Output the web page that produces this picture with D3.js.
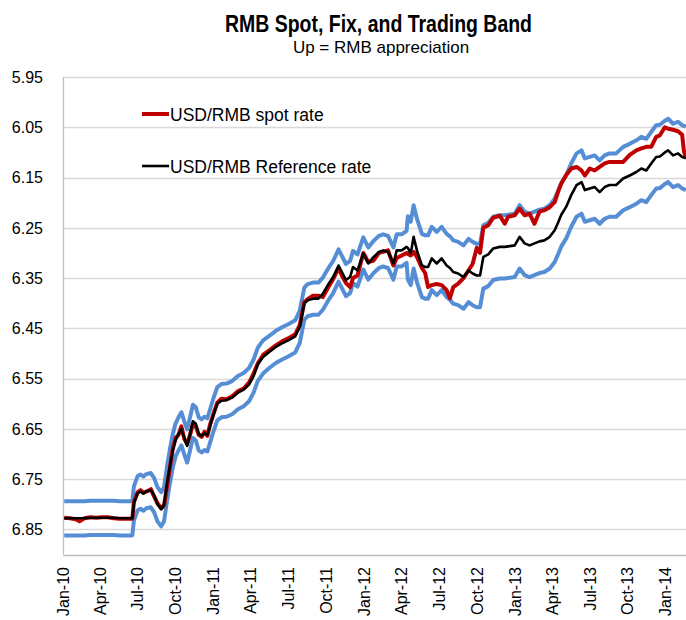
<!DOCTYPE html>
<html>
<head>
<meta charset="utf-8">
<script src="https://cdn.jsdelivr.net/npm/d3@7"></script>
<style>
    body { margin: 0; background: #fff; }
    svg text { font-family: "Liberation Sans", Arial, sans-serif; fill: #000; }
    .title { font-weight: bold; }
</style>
</head>
<body>
<script>
(function(){

//dates of the readings (one row per year)
var dates = [
    "2010-01-04","2010-01-18","2010-02-01","2010-02-10","2010-02-22","2010-03-08","2010-03-22","2010-04-06","2010-04-20","2010-05-04","2010-05-18","2010-06-01","2010-06-18","2010-06-22","2010-07-01","2010-07-08","2010-07-15","2010-07-22","2010-08-02","2010-08-10","2010-08-18","2010-08-27","2010-09-03","2010-09-10","2010-09-17","2010-09-24","2010-10-01","2010-10-08","2010-10-15","2010-10-22","2010-10-29","2010-11-05","2010-11-12","2010-11-19","2010-11-26","2010-12-03","2010-12-10","2010-12-17","2010-12-24","2010-12-31",
    "2011-01-10","2011-01-20","2011-02-01","2011-02-15","2011-03-01","2011-03-15","2011-03-28","2011-04-08","2011-04-18","2011-05-01","2011-05-16","2011-06-01","2011-06-16","2011-07-01","2011-07-18","2011-07-29","2011-08-09","2011-08-17","2011-08-30","2011-09-12","2011-09-23","2011-10-05","2011-10-18","2011-10-31","2011-11-08","2011-11-18","2011-11-28","2011-12-05","2011-12-16","2011-12-30",
    "2012-01-11","2012-01-24","2012-02-06","2012-02-16","2012-02-28","2012-03-12","2012-03-20","2012-04-01","2012-04-13","2012-04-16","2012-04-23","2012-04-30","2012-05-08","2012-05-20","2012-05-28","2012-06-04","2012-06-13","2012-06-25","2012-07-07","2012-07-19","2012-07-27","2012-08-04","2012-08-16","2012-08-29","2012-09-10","2012-09-20","2012-09-30","2012-10-08","2012-10-16","2012-10-28","2012-11-09","2012-11-25","2012-12-07","2012-12-15","2012-12-31",
    "2013-01-12","2013-01-24","2013-02-05","2013-02-17","2013-03-01","2013-03-13","2013-03-26","2013-04-07","2013-04-15","2013-04-23","2013-05-05","2013-05-17","2013-05-30","2013-06-11","2013-06-19","2013-07-01","2013-07-13","2013-07-25","2013-08-06","2013-08-18","2013-09-03","2013-09-20","2013-10-06","2013-10-22","2013-11-03","2013-11-15","2013-11-27","2013-12-09","2013-12-18","2013-12-30",
    "2014-01-07","2014-01-19","2014-01-31","2014-02-10","2014-02-14","2014-02-19"
];

//USD/RMB spot rate
var spotRate = [
    6.827,6.828,6.830,6.834,6.828,6.826,6.827,6.826,6.826,6.828,6.829,6.829,6.829,6.795,6.776,6.772,6.777,6.775,6.770,6.785,6.798,6.808,6.802,6.765,6.728,6.690,6.668,6.662,6.645,6.670,6.680,6.662,6.640,6.645,6.662,6.666,6.656,6.664,6.640,6.622,
    6.598,6.590,6.591,6.585,6.575,6.570,6.558,6.540,6.520,6.503,6.494,6.484,6.476,6.470,6.462,6.443,6.398,6.392,6.385,6.385,6.388,6.370,6.352,6.330,6.345,6.360,6.368,6.350,6.345,6.300,
    6.318,6.315,6.300,6.298,6.295,6.325,6.310,6.305,6.300,6.302,6.305,6.298,6.308,6.330,6.340,6.368,6.364,6.362,6.364,6.374,6.390,6.368,6.361,6.350,6.335,6.322,6.290,6.300,6.250,6.245,6.230,6.226,6.242,6.228,6.225,
    6.212,6.225,6.222,6.242,6.218,6.215,6.209,6.199,6.179,6.162,6.145,6.132,6.129,6.136,6.146,6.132,6.136,6.129,6.122,6.119,6.119,6.119,6.105,6.096,6.092,6.089,6.089,6.069,6.066,6.050,
    6.053,6.055,6.058,6.065,6.096,6.112
];

//USD/RMB reference (fixing) rate
var refRate = [
    6.828,6.828,6.828,6.828,6.828,6.827,6.827,6.827,6.827,6.827,6.828,6.828,6.828,6.798,6.778,6.775,6.779,6.774,6.772,6.782,6.800,6.810,6.800,6.760,6.725,6.694,6.672,6.660,6.650,6.668,6.684,6.660,6.635,6.640,6.660,6.664,6.659,6.662,6.643,6.624,
    6.600,6.594,6.593,6.588,6.578,6.572,6.562,6.545,6.522,6.507,6.497,6.487,6.480,6.474,6.466,6.447,6.401,6.394,6.391,6.391,6.381,6.364,6.348,6.325,6.338,6.354,6.348,6.328,6.335,6.301,
    6.321,6.308,6.298,6.295,6.298,6.321,6.295,6.295,6.288,6.290,6.301,6.268,6.295,6.325,6.328,6.328,6.311,6.321,6.311,6.325,6.330,6.338,6.341,6.348,6.335,6.341,6.345,6.345,6.308,6.303,6.291,6.288,6.288,6.287,6.285,
    6.268,6.281,6.285,6.281,6.277,6.275,6.268,6.255,6.240,6.224,6.208,6.185,6.165,6.159,6.175,6.172,6.169,6.179,6.169,6.165,6.165,6.152,6.146,6.139,6.132,6.136,6.122,6.109,6.108,6.100,
    6.096,6.106,6.102,6.109,6.110,6.112
];

//trading band, strong side
var bandUpper = [
    6.794,6.794,6.794,6.794,6.794,6.793,6.793,6.793,6.793,6.793,6.794,6.794,6.794,6.764,6.744,6.741,6.745,6.740,6.738,6.748,6.766,6.776,6.766,6.726,6.691,6.661,6.639,6.627,6.617,6.635,6.651,6.627,6.602,6.607,6.627,6.631,6.626,6.629,6.610,6.591,
    6.567,6.561,6.560,6.555,6.545,6.539,6.529,6.512,6.489,6.474,6.465,6.455,6.448,6.442,6.434,6.415,6.369,6.362,6.359,6.359,6.349,6.332,6.316,6.293,6.306,6.322,6.316,6.296,6.303,6.269,
    6.289,6.276,6.266,6.263,6.266,6.289,6.263,6.263,6.256,6.227,6.238,6.205,6.232,6.262,6.265,6.265,6.248,6.258,6.248,6.262,6.267,6.275,6.278,6.285,6.272,6.278,6.282,6.282,6.245,6.240,6.228,6.225,6.225,6.224,6.222,
    6.205,6.218,6.222,6.218,6.214,6.212,6.205,6.192,6.177,6.161,6.145,6.122,6.102,6.096,6.112,6.109,6.106,6.116,6.106,6.102,6.102,6.089,6.083,6.076,6.069,6.073,6.059,6.046,6.045,6.037,
    6.033,6.043,6.039,6.046,6.047,6.049
];

//trading band, weak side
var bandLower = [
    6.862,6.862,6.862,6.862,6.862,6.861,6.861,6.861,6.861,6.861,6.862,6.862,6.862,6.832,6.812,6.809,6.813,6.808,6.806,6.816,6.834,6.844,6.834,6.794,6.759,6.727,6.705,6.693,6.683,6.701,6.717,6.693,6.668,6.673,6.693,6.697,6.692,6.695,6.676,6.657,
    6.633,6.627,6.626,6.621,6.611,6.605,6.595,6.578,6.555,6.540,6.529,6.519,6.512,6.506,6.498,6.479,6.433,6.426,6.423,6.423,6.413,6.396,6.380,6.357,6.370,6.386,6.380,6.360,6.367,6.333,
    6.353,6.340,6.330,6.327,6.330,6.353,6.327,6.327,6.320,6.353,6.364,6.331,6.358,6.388,6.391,6.391,6.374,6.384,6.374,6.388,6.393,6.401,6.404,6.411,6.398,6.404,6.408,6.408,6.371,6.366,6.354,6.351,6.351,6.350,6.348,
    6.331,6.344,6.348,6.344,6.340,6.338,6.331,6.318,6.303,6.287,6.271,6.248,6.228,6.222,6.238,6.235,6.232,6.242,6.232,6.228,6.228,6.215,6.209,6.202,6.195,6.199,6.185,6.172,6.171,6.163,
    6.159,6.169,6.165,6.172,6.173,6.175
];

//value axis ticks (axis is reversed: up = RMB appreciation)
var yTicks = [5.95, 6.05, 6.15, 6.25, 6.35, 6.45, 6.55, 6.65, 6.75, 6.85];
var legendLabels = ["USD/RMB spot rate", "USD/RMB Reference rate"];

window.onload = drawChart();

function drawChart(){

    var width = 686,
        height = 620;

    var svg = d3.select("body")
        .append("svg")
        .attr("width", width)
        .attr("height", height);

    var parseDate = d3.timeParse("%Y-%m-%d");
    var dateObjs = dates.map(parseDate);

    //plot area runs off the right edge like the original
    var x = d3.scaleTime()
        .domain([new Date(2010, 0, 1), new Date(2014, 2, 1)])
        .range([63, 690]);

    var y = d3.scaleLinear()
        .domain([5.95, 6.9])
        .range([77, 554.5]);

    //horizontal gridlines
    svg.selectAll(".grid")
        .data(yTicks)
        .enter()
        .append("line")
        .attr("class", "grid")
        .attr("x1", 63)
        .attr("x2", width)
        .attr("y1", function(d){ return Math.round(y(d)) + 0.5; })
        .attr("y2", function(d){ return Math.round(y(d)) + 0.5; })
        .style("stroke", "#d9d9d9")
        .style("stroke-width", 1.3);

    //y tick labels
    svg.selectAll(".ylab")
        .data(yTicks)
        .enter()
        .append("text")
        .attr("class", "ylab")
        .attr("x", 43)
        .attr("y", function(d){ return y(d); })
        .attr("dy", "0.36em")
        .attr("text-anchor", "end")
        .style("font-size", "16px")
        .text(function(d){ return d.toFixed(2); });

    //axis lines
    svg.append("line")
        .attr("x1", 63.5).attr("x2", 63.5)
        .attr("y1", y(5.95)).attr("y2", y(6.9))
        .style("stroke", "#bfbfbf").style("stroke-width", 1.3);
    svg.append("line")
        .attr("x1", 63).attr("x2", width)
        .attr("y1", Math.round(y(6.9)) + 0.5).attr("y2", Math.round(y(6.9)) + 0.5)
        .style("stroke", "#bfbfbf").style("stroke-width", 1.3);

    //x tick labels, quarterly, rotated
    var xTicks = x.ticks(d3.timeMonth.every(3));
    var fmt = d3.timeFormat("%b-%y");
    svg.selectAll(".xlab")
        .data(xTicks)
        .enter()
        .append("text")
        .attr("class", "xlab")
        .attr("transform", function(d){ return "translate(" + x(d) + ",567) rotate(-90)"; })
        .attr("dy", "0.36em")
        .attr("text-anchor", "end")
        .style("font-size", "16px")
        .text(function(d){ return fmt(d); });

    //line generator
    function seriesOf(values){
        return values.map(function(v, i){ return { date: dateObjs[i], value: v }; });
    }
    var line = d3.line()
        .x(function(d){ return x(d.date); })
        .y(function(d){ return y(d.value); });

    var series = [
        { values: bandUpper, color: "#558ed5", w: 4 },
        { values: bandLower, color: "#558ed5", w: 4 },
        { values: spotRate, color: "#c00000", w: 4 },
        { values: refRate, color: "#000000", w: 2.6 }
    ];

    svg.selectAll(".series")
        .data(series)
        .enter()
        .append("path")
        .attr("class", "series")
        .attr("d", function(d){ return line(seriesOf(d.values)); })
        .style("fill", "none")
        .style("stroke", function(d){ return d.color; })
        .style("stroke-width", function(d){ return d.w; })
        .style("stroke-linejoin", "round");

    //legend
    var legend = [
        { label: legendLabels[0], color: "#c00000", w: 4, y: 114 },
        { label: legendLabels[1], color: "#000000", w: 2.6, y: 166 }
    ];
    var items = svg.selectAll(".legend")
        .data(legend)
        .enter()
        .append("g")
        .attr("class", "legend");
    items.append("line")
        .attr("x1", 142).attr("x2", 169)
        .attr("y1", function(d){ return d.y; })
        .attr("y2", function(d){ return d.y; })
        .style("stroke", function(d){ return d.color; })
        .style("stroke-width", function(d){ return d.w; });
    items.append("text")
        .attr("x", 170)
        .attr("y", function(d){ return d.y + 6.5; })
        .style("font-size", "17.5px")
        .text(function(d){ return d.label; });

    //titles (title squeezed to the narrow width of the original)
    svg.append("text")
        .attr("class", "title")
        .attr("x", 378.5)
        .attr("y", 32)
        .attr("text-anchor", "middle")
        .attr("textLength", 307)
        .attr("lengthAdjust", "spacingAndGlyphs")
        .style("font-size", "23px")
        .text("RMB Spot, Fix, and Trading Band");
    svg.append("text")
        .attr("x", 381)
        .attr("y", 53)
        .attr("text-anchor", "middle")
        .style("font-size", "17px")
        .text("Up = RMB appreciation");
};

})();
</script>
</body>
</html>
